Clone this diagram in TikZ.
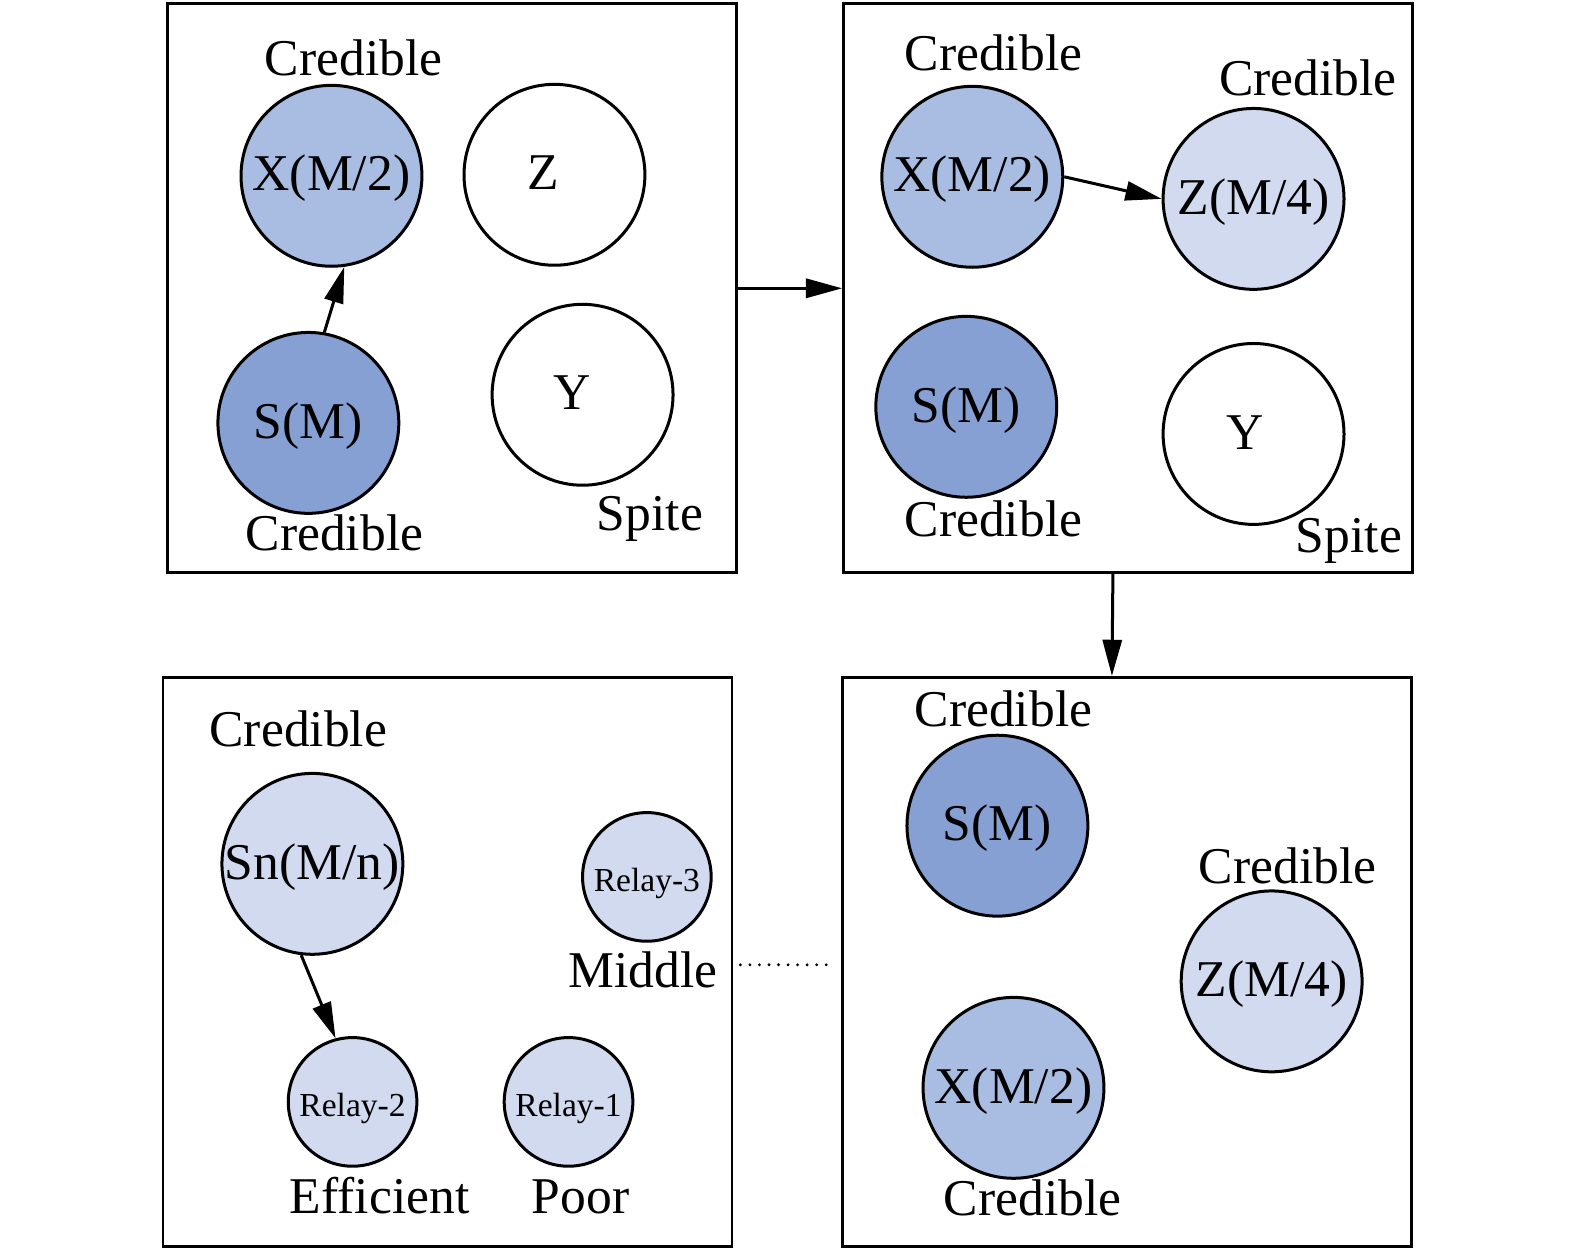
\documentclass[tikz,border=0pt]{standalone}
\usepackage{fontspec}
\setmainfont{Liberation Serif}
\usetikzlibrary{arrows.meta}
\definecolor{cdark}{HTML}{86A0D4}
\definecolor{cmid}{HTML}{A9BCE2}
\definecolor{clight}{HTML}{D1DAEE}
\tikzset{
  box/.style={draw, line width=0.8pt, minimum width=5.66cm, minimum height=5.66cm, inner sep=0pt},
  big/.style={circle, draw, line width=0.85pt, minimum size=1.8cm, inner sep=0pt,
    font=\fontsize{14.6}{16}\selectfont, text height=0.86em, text depth=0pt},
  small/.style={circle, draw, line width=0.85pt, minimum size=1.28cm, inner sep=0pt,
    font=\fontsize{9.5}{11}\selectfont, text height=0.8em, text depth=0pt},
  lbl/.style={inner sep=0pt, font=\fontsize{14.6}{16}\selectfont, text height=0.88em, text depth=0pt},
  arr/.style={line width=0.85pt, -{Triangle[length=0.36cm,width=0.19cm]}},
}
\begin{document}
\begin{tikzpicture}[x=0.01cm,y=-0.01cm]
\useasboundingbox (0,0) rectangle (1568,1244);
% boxes
\node[box] (b1) at (450,287) {};
\node[box] (b2) at (1123,287) {};
\node[box] (b3) at (445.5,957.5) {};
\node[box] (b4) at (1122,957.5) {};
% box 1
\node[big, fill=cmid] (x1) at (330,175) {X(M/2)};
\node[big, fill=white] (z1) at (552,174) {Z\kern0.22cm};
\node[big, fill=cdark] (s1) at (307,421) {S(M)};
\node[big, fill=white] (y1) at (580,393) {Y\kern0.2cm};
\node[lbl] (l1a) at (352,60) {Credible};
\node[lbl] (l1b) at (333,533) {Credible};
\node[lbl] (l1c) at (647,513) {Spite};
\draw[arr] (s1.80) -- (x1.-82);
% box 2
\node[big, fill=cmid] (x2) at (968,176) {X(M/2)};
\node[big, fill=clight] (z2) at (1248,198) {Z(M/4)};
\node[big, fill=cdark] (s2) at (962,405) {S(M)};
\node[big, fill=white] (y2) at (1248,432) {Y\kern0.16cm};
\node[lbl] (l2a) at (989,55) {Credible};
\node[lbl] (l2b) at (1302,80) {Credible};
\node[lbl] (l2c) at (989,519) {Credible};
\node[lbl] (l2d) at (1343,535) {Spite};
\draw[arr] (x2.0) -- (z2.180);
% box 3
\node[big, fill=clight] (sn) at (311,860) {Sn(M/n)};
\node[small, fill=clight] (r3) at (644,873) {Relay-3};
\node[small, fill=clight] (r2) at (351,1097) {Relay-2};
\node[small, fill=clight] (r1) at (566,1097) {Relay-1};
\node[lbl] (l3a) at (297,728) {Credible};
\node[lbl] (l3b) at (640,968) {Middle};
\node[lbl] (l3c) at (378,1193) {Efficient};
\node[lbl] (l3d) at (578,1193) {Poor};
\draw[arr] (sn.-97) -- (r2.105);
% box 4
\node[big, fill=cdark] (s4) at (993,822) {S(M)};
\node[big, fill=clight] (z4) at (1266,977) {Z(M/4)};
\node[big, fill=cmid] (x4) at (1009,1083) {X(M/2)};
\node[lbl] (l4a) at (999,708) {Credible};
\node[lbl] (l4b) at (1282,864) {Credible};
\node[lbl] (l4c) at (1028,1195) {Credible};
% connectors between boxes
\draw[arr] (b1.east) -- (b2.west);
\draw[arr] ([xshift=-0.15cm]b2.south) -- ([xshift=-0.15cm]b4.north);
\draw[line width=0.9pt, line cap=round, dash pattern=on 0pt off 2.7pt]
  ([xshift=0.07cm,yshift=-0.03cm]b3.east) -- ([xshift=-0.09cm,yshift=-0.03cm]b4.west);
\end{tikzpicture}
\end{document}
